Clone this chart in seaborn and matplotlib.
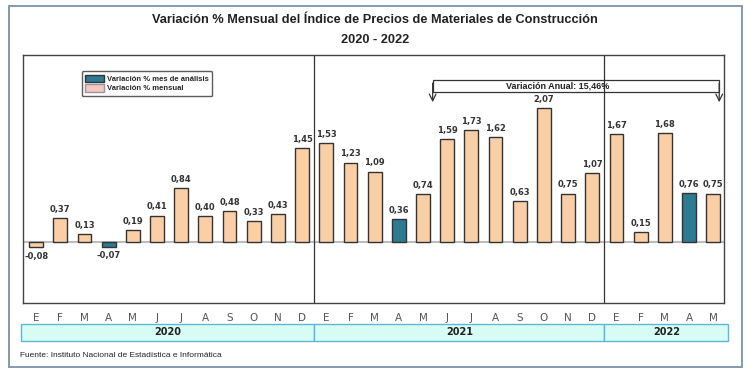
import numpy as np
import pandas as pd
import matplotlib
matplotlib.use("Agg")
import matplotlib.pyplot as plt
import seaborn as sns
from matplotlib.patches import Rectangle, Patch

# data
meses = ["E", "F", "M", "A", "M", "J", "J", "A", "S", "O", "N", "D"]
anios = ["2020", "2021", "2022"]
var_2020 = [-0.08, 0.37, 0.13, -0.07, 0.19, 0.41, 0.84, 0.40, 0.48, 0.33, 0.43, 1.45]
var_2021 = [1.53, 1.23, 1.09, 0.36, 0.74, 1.59, 1.73, 1.62, 0.63, 2.07, 0.75, 1.07]
var_2022 = [1.67, 0.15, 1.68, 0.76, 0.75]
mes_analisis = "A"
variacion_anual = "Variación Anual: 15,46%"

valores = var_2020 + var_2021 + var_2022
etiquetas = meses * 2 + meses[:5]
periodo = [f"{m}-{a}-{i}" for i, (m, a) in enumerate(
    zip(etiquetas, ["2020"] * 12 + ["2021"] * 12 + ["2022"] * 5))]
tipo = ["analisis" if m == mes_analisis and i % 12 == 3 else "mensual"
        for i, m in enumerate(etiquetas)]

df = pd.DataFrame({"periodo": periodo, "valor": valores, "tipo": tipo})

sns.set_theme(style="white")
plt.rcParams["font.family"] = ["Liberation Sans", "DejaVu Sans"]

peach = "#fbcfa6"
teal = "#2c7b93"

fig = plt.figure(figsize=(7.5, 3.75), dpi=100)
ax = fig.add_axes([0.0307, 0.192, 0.9347, 0.661])

sns.barplot(data=df, x="periodo", y="valor", hue="tipo", order=periodo,
            palette={"mensual": peach, "analisis": teal}, dodge=False,
            saturation=1, width=0.57, edgecolor="#333333", linewidth=1.0,
            legend=False, ax=ax)

ax.set_xlim(-0.54, 28.45)
ax.set_ylim(-0.94, 2.89)
ax.axhline(0, color="#bdbdbd", lw=1.5, zorder=0)
for x in [11.5, 23.5]:
    ax.axvline(x, color="#333333", lw=0.9)

for i, v in enumerate(valores):
    txt = f"{v:.2f}".replace(".", ",")
    if v >= 0:
        ax.annotate(txt, (i, v), xytext=(0, 3), textcoords="offset points",
                    ha="center", va="bottom", fontsize=6, fontweight="bold",
                    color="#333333", family=["DejaVu Sans"])
    else:
        ax.annotate(txt, (i, v), xytext=(0, -3), textcoords="offset points",
                    ha="center", va="top", fontsize=6, fontweight="bold",
                    color="#333333", family=["DejaVu Sans"])

ax.set_xticks(range(len(etiquetas)))
ax.set_xticklabels(etiquetas, fontsize=7.5, color="#555555", family=["DejaVu Sans"])
ax.tick_params(axis="x", length=0, pad=7)
ax.set_yticks([])
ax.set_xlabel("")
ax.set_ylabel("")
for s in ax.spines.values():
    s.set_color("#444444")
    s.set_linewidth(1.0)

# year boxes under the month labels
trans = matplotlib.transforms.blended_transform_factory(ax.transData, ax.transAxes)
limites = [(-0.62, 11.5), (11.5, 23.5), (23.5, 28.62)]
for (x0, x1), a in zip(limites, anios):
    ax.add_patch(Rectangle((x0, -0.153), x1 - x0, 0.068, transform=trans,
                           facecolor="#d6fcf4", edgecolor="#5fb6d6", lw=1.0,
                           clip_on=False))
    ax.text((x0 + x1) / 2, -0.119, a, transform=trans, ha="center", va="center",
            fontsize=7, fontweight="bold", color="#222222", family=["DejaVu Sans"])

# annual variation bracket
x_ini, x_fin = 16.4, 28.25
ax.add_patch(Rectangle((x_ini, 2.32), x_fin - x_ini, 0.18, facecolor="none",
                       edgecolor="#333333", lw=0.9))
ax.text(21.55, 2.41, variacion_anual, ha="center", va="center", fontsize=6.5,
        fontweight="bold", color="#222222")
for x in [x_ini, x_fin]:
    ax.annotate("", xy=(x, 2.12), xytext=(x, 2.50),
                arrowprops=dict(arrowstyle="->", color="#333333", lw=0.9))

# legend
handles = [Patch(facecolor=teal, edgecolor="#333333", label="Variación % mes de análisis"),
           Patch(facecolor="#f4c6c4", edgecolor="#999999", label="Variación % mensual")]
leg = ax.legend(handles=handles, loc="upper left", bbox_to_anchor=(0.078, 0.95),
                fontsize=5.5, frameon=True, fancybox=True, handlelength=2.4,
                handleheight=1.1, labelspacing=0.1, borderpad=0.5, handletextpad=0.4)
leg.get_frame().set_edgecolor("#333333")
leg.get_frame().set_linewidth(1.0)
for t in leg.get_texts():
    t.set_fontweight("bold")

fig.text(0.5, 0.947, "Variación % Mensual del Índice de Precios de Materiales de Construcción",
         ha="center", va="center", fontsize=9.2, fontweight="bold", color="#222222")
fig.text(0.5, 0.893, "2020 - 2022", ha="center", va="center", fontsize=9.2,
         fontweight="bold", color="#222222")
fig.text(0.027, 0.051, "Fuente: Instituto Nacional de Estadística e Informática",
         ha="left", va="center", fontsize=6, color="#222222")

fig.patches.append(Rectangle((9 / 750, 1 - 367 / 375), 733 / 750, 361 / 375,
                             transform=fig.transFigure, facecolor="none",
                             edgecolor="#7d91a6", lw=1.3))

fig.savefig("out.png", dpi=100)
